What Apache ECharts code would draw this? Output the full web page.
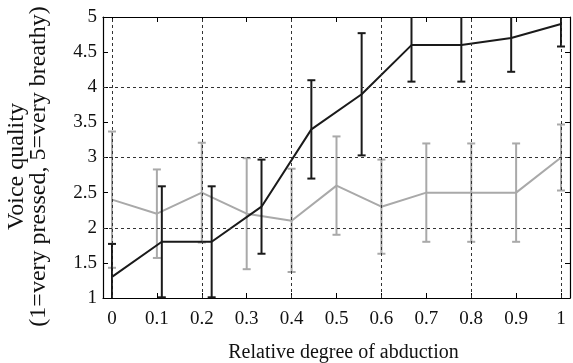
<!DOCTYPE html>
<html>
<head>
<meta charset="utf-8">
<script src="https://cdn.jsdelivr.net/npm/echarts@6/dist/echarts.min.js"></script>
<style>
html,body{margin:0;padding:0;background:#fff;}
#chart{width:573px;height:363px;}
</style>
</head>
<body>
<div id="chart"></div>
<script>
// ---- data ----
const xTicks = [0, 0.1, 0.2, 0.3, 0.4, 0.5, 0.6, 0.7, 0.8, 0.9, 1];
const xGrid = [0, 0.2, 0.4, 0.6, 0.8, 1];
const yGrid = [2, 3, 4];

// black series (10 points)
const blackX    = [0, 0.111, 0.222, 0.333, 0.444, 0.556, 0.667, 0.778, 0.889, 1];
const blackMean = [1.3, 1.8, 1.8, 2.3, 3.4, 3.9, 4.6, 4.6, 4.7, 4.9];
const blackLow  = [0.83, 1.01, 1.01, 1.63, 2.7, 3.03, 4.08, 4.08, 4.22, 4.58];
const blackHigh = [1.77, 2.59, 2.59, 2.97, 4.1, 4.77, 5.12, 5.12, 5.18, 5.22];

// gray series (11 points)
const grayX    = [0, 0.1, 0.2, 0.3, 0.4, 0.5, 0.6, 0.7, 0.8, 0.9, 1];
const grayMean = [2.4, 2.2, 2.5, 2.2, 2.1, 2.6, 2.3, 2.5, 2.5, 2.5, 3.0];
const grayLow  = [1.43, 1.57, 1.79, 1.41, 1.37, 1.9, 1.63, 1.8, 1.8, 1.8, 2.53];
const grayHigh = [3.37, 2.83, 3.21, 2.99, 2.84, 3.3, 2.97, 3.2, 3.2, 3.2, 3.47];

const FONT = '"Liberation Serif", "Times New Roman", serif';
const BLACK = '#1a1a1a';
const GRAY = '#a9a9a9';

function zip2(a, b) { return a.map((v, i) => [v, b[i]]); }
function zip3(a, b, c) { return a.map((v, i) => [v, b[i], c[i]]); }

function errorBar(color, width) {
  return function (params, api) {
    const x = api.value(0), lo = api.value(1), hi = api.value(2);
    const cs = params.coordSys;
    const top = cs.y, bot = cs.y + cs.height;
    const pLo = api.coord([x, lo]);
    const pHi = api.coord([x, hi]);
    const px = pLo[0];
    const yLo = Math.min(pLo[1], bot);
    const yHi = Math.max(pHi[1], top);
    const hw = 4;
    const style = { stroke: color, lineWidth: width, fill: null };
    const children = [{ type: 'line', shape: { x1: px, y1: yLo, x2: px, y2: yHi }, style: style }];
    if (pLo[1] <= bot + 0.5) children.push({ type: 'line', shape: { x1: px - hw, y1: pLo[1], x2: px + hw, y2: pLo[1] }, style: style });
    if (pHi[1] >= top - 0.5) children.push({ type: 'line', shape: { x1: px - hw, y1: pHi[1], x2: px + hw, y2: pHi[1] }, style: style });
    return { type: 'group', children: children };
  };
}

const axisLineStyle = { color: '#000', width: 1.2 };
const chart = echarts.init(document.getElementById('chart'), null, { renderer: 'canvas' });

const option = {
  animation: false,
  backgroundColor: '#fff',
  grid: { left: 103, right: 3, top: 17, bottom: 65, containLabel: false, outerBoundsMode: 'none' },
  xAxis: [
    {
      type: 'value', position: 'bottom', min: -0.02, max: 1.02,
      axisLine: { show: true, onZero: false, lineStyle: axisLineStyle },
      axisTick: { show: true, inside: true, length: 5, customValues: xTicks, lineStyle: { color: '#000' } },
      axisLabel: { show: true, customValues: xTicks, margin: 12, color: '#111', fontFamily: FONT, fontSize: 19,
                   formatter: v => String(v) },
      splitLine: { show: false },
      name: 'Relative degree of abduction', nameLocation: 'middle', nameGap: 45,
      nameTextStyle: { fontFamily: FONT, fontSize: 20, color: '#111', padding: [0, 0, 0, 14] }
    },
    {
      type: 'value', position: 'top', min: -0.02, max: 1.02,
      axisLine: { show: true, onZero: false, lineStyle: axisLineStyle },
      axisTick: { show: true, inside: true, length: 5, customValues: xTicks, lineStyle: { color: '#000' } },
      axisLabel: { show: false },
      splitLine: { show: false }
    }
  ],
  yAxis: [
    {
      type: 'value', position: 'left', min: 1, max: 5, interval: 0.5,
      axisLine: { show: true, onZero: false, lineStyle: axisLineStyle },
      axisTick: { show: true, inside: true, length: 5, lineStyle: { color: '#000' } },
      axisLabel: { show: true, margin: 6, color: '#111', fontFamily: FONT, fontSize: 19 },
      splitLine: { show: false },
      name: 'Voice quality\n(1=very pressed, 5=very breathy)', nameLocation: 'middle', nameGap: 53, nameRotate: 90,
      nameTextStyle: { fontFamily: FONT, fontSize: 24, lineHeight: 22, color: '#111', padding: [0, 18, 0, 0] }
    },
    {
      type: 'value', position: 'right', min: 1, max: 5, interval: 0.5,
      axisLine: { show: true, onZero: false, lineStyle: axisLineStyle },
      axisTick: { show: true, inside: true, length: 5, lineStyle: { color: '#000' } },
      axisLabel: { show: false },
      splitLine: { show: false }
    }
  ],
  series: [
    {
      type: 'line', data: [], z: 1, silent: true,
      markLine: {
        silent: true, symbol: 'none', label: { show: false },
        lineStyle: { color: '#333', width: 1, type: [3, 3] },
        data: xGrid.map(v => ({ xAxis: v })).concat(yGrid.map(v => ({ yAxis: v })))
      }
    },
    {
      name: 'gray', type: 'line', z: 3, data: zip2(grayX, grayMean), showSymbol: false,
      lineStyle: { color: GRAY, width: 2 }, itemStyle: { color: GRAY }
    },
    {
      name: 'grayErr', type: 'custom', z: 3, data: zip3(grayX, grayLow, grayHigh),
      renderItem: errorBar(GRAY, 2)
    },
    {
      name: 'black', type: 'line', z: 4, data: zip2(blackX, blackMean), showSymbol: false,
      lineStyle: { color: BLACK, width: 2 }, itemStyle: { color: BLACK }
    },
    {
      name: 'blackErr', type: 'custom', z: 4, data: zip3(blackX, blackLow, blackHigh),
      renderItem: errorBar(BLACK, 2)
    }
  ]
};
chart.setOption(option);
</script>
</body>
</html>
